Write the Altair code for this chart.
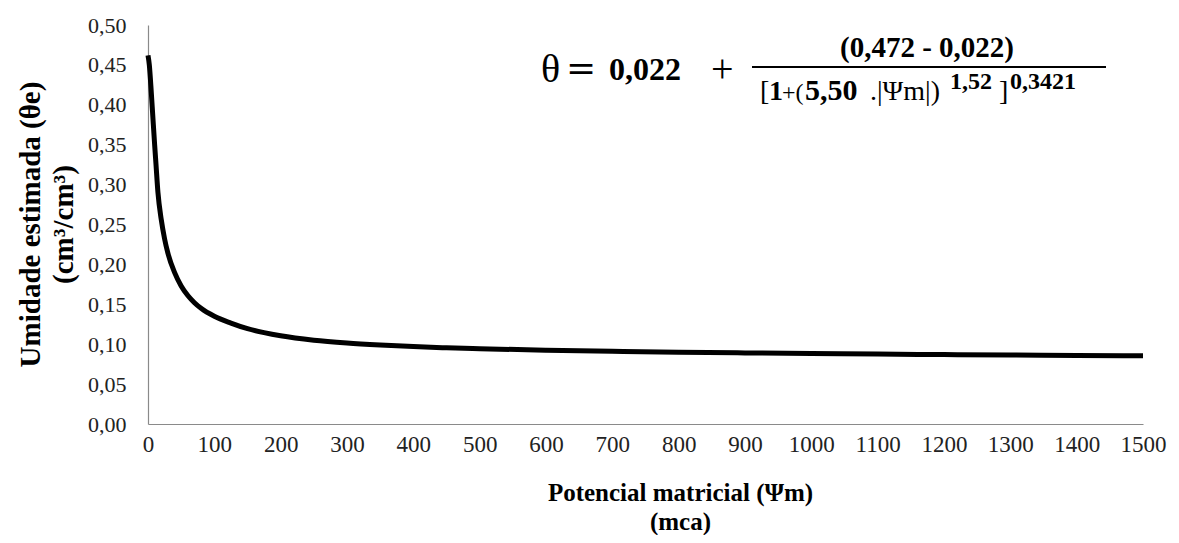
import altair as alt
import pandas as pd

# Curve values (potencial matricial, umidade estimada)
psi = [0, 2, 5, 7, 10, 12, 15, 20, 25, 30, 40, 50, 60, 70, 80, 100, 125, 150, 175,
       200, 250, 300, 350, 400, 450, 500, 600, 700, 800, 900, 1000, 1100, 1200,
       1300, 1400, 1500]
theta = [0.462, 0.450, 0.415, 0.389, 0.350, 0.326, 0.290, 0.256, 0.232, 0.214,
         0.190, 0.173, 0.161, 0.152, 0.145, 0.135, 0.1265, 0.1195, 0.1145,
         0.1105, 0.1050, 0.1015, 0.0990, 0.0970, 0.0955, 0.0943, 0.0925, 0.0911,
         0.0900, 0.0891, 0.0883, 0.0876, 0.0870, 0.0864, 0.0859, 0.0855]

x_ticks = list(range(0, 1600, 100))
y_ticks = [0.0, 0.05, 0.10, 0.15, 0.20, 0.25, 0.30, 0.35, 0.40, 0.45, 0.50]

x_title = ["Potencial matricial (Ψm)", "(mca)"]
y_title = ["Umidade estimada (θe)", "(cm³/cm³)"]

df = pd.DataFrame({"psi": psi, "theta": theta})

SERIF = "Liberation Serif"
OX, OY = 148, 25  # page position of plot origin

line = alt.Chart(df).mark_line(
    color="black", strokeWidth=5, interpolate="monotone", strokeCap="butt"
).encode(
    x=alt.X("psi:Q",
            scale=alt.Scale(domain=[0, 1500], nice=False, zero=True),
            axis=alt.Axis(values=x_ticks, title=x_title, labelPadding=9,
                          labelOverlap=False, labelFlush=False,
                          labelExpr="toString(datum.value)",
                          labelFontSize=23,
                          titleX=680 - OX, titleY=56, titleBaseline="top",
                          titleLineHeight=29, titleFontSize=25)),
    y=alt.Y("theta:Q",
            scale=alt.Scale(domain=[0, 0.5], nice=False),
            axis=alt.Axis(values=y_ticks,
                          labelExpr="replace(format(datum.value, '.2f'), '.', ',')",
                          labelPadding=22, labelFontSize=22, labelFlush=False,
                          title=y_title,
                          titleX=30 - OX, titleY=199, titleAngle=-90,
                          titleBaseline="middle", titleAlign="center",
                          titleLineHeight=33, titleFontSize=29)),
)

one = alt.Data(values=[{}])


def txt(s, x, y, size, bold=False, align="left", font=SERIF, baseline="alphabetic"):
    return alt.Chart(one).mark_text(
        text=s, font=font, fontSize=size,
        fontWeight="bold" if bold else "normal",
        align=align, baseline=baseline, color="black"
    ).encode(x=alt.value(x - OX), y=alt.value(y - OY))


eq = [
    txt("θ", 541, 82, 40),
    txt("=", 566, 80, 36, font="DejaVu Serif"),
    txt("0,022", 609, 80, 32, bold=True),
    txt("+", 711, 82, 40),
    txt("(0,472 - 0,022)", 927, 57, 29, bold=True, align="center"),
    txt("[", 760, 100, 28),
    txt("1", 769, 100, 28, bold=True),
    txt("+(", 782, 100, 24),
    txt("5,50", 805, 100, 30, bold=True),
    txt(".|Ψm|)", 870, 100, 28),
    txt("1,52", 950, 89, 24, bold=True),
    txt("]", 999, 100, 28),
    txt("0,3421", 1010, 89, 24, bold=True),
]

bar = alt.Chart(one).mark_rule(color="black", strokeWidth=2).encode(
    x=alt.value(752 - OX), x2=alt.value(1106 - OX), y=alt.value(67 - OY)
)

chart = alt.layer(line, bar, *eq).properties(
    width=995, height=399,
    autosize=alt.AutoSizeParams(type="none"),
    padding={"left": OX - 8, "top": OY - 8, "right": 24, "bottom": 111},
).configure_view(stroke=None).configure_axis(
    grid=False, ticks=False, domainColor="#8a8a8a", domainWidth=1.2,
    labelFont=SERIF, labelColor="#222222",
    titleFont=SERIF, titleFontWeight="bold", titleColor="black",
)

chart.save("out.html", embed_options={"renderer": "svg", "actions": False})
